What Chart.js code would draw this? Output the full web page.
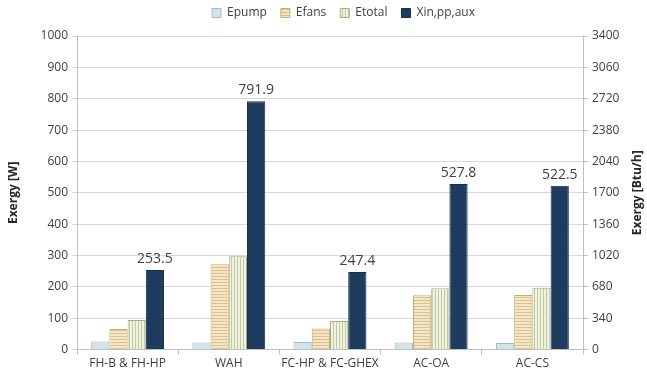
<!DOCTYPE html>
<html>
<head>
<meta charset="utf-8">
<script src="https://cdn.jsdelivr.net/npm/chart.js@4"></script>
<style>
  html, body { margin: 0; padding: 0; background: #fff; }
  #wrap { width: 647px; height: 375px; position: relative; }
</style>
</head>
<body>
<div id="wrap"><canvas id="chart"></canvas></div>
<script>
const categories = ["FH-B & FH-HP", "WAH", "FC-HP & FC-GHEX", "AC-OA", "AC-CS"];
const epump  = [26, 23, 24, 23, 21];
const efans  = [66, 272, 67, 173, 174];
const etotal = [94, 298, 91, 196, 197];
const xin    = [253.5, 791.9, 247.4, 527.8, 522.5];
const btuTicks = [0, 340, 680, 1020, 1360, 1700, 2040, 2380, 2720, 3060, 3400];

const FONT = "'Open Sans', 'Liberation Sans', sans-serif";

// stripe fills like the old spreadsheet look
function stripes(bg, line, vertical) {
  const c = document.createElement("canvas");
  c.width = 3; c.height = 3;
  const g = c.getContext("2d");
  g.fillStyle = bg; g.fillRect(0, 0, 3, 3);
  g.fillStyle = line;
  if (vertical) g.fillRect(0, 0, 1, 3); else g.fillRect(0, 0, 3, 1);
  return g.createPattern(c, "repeat");
}

const ctx = document.getElementById("chart").getContext("2d");

// value labels on the dark series + right axis title reading upwards
const extras = {
  id: "extras",
  afterLayout(chart) {
    const lg = chart.legend;
    lg.left += 20; lg.right += 20;
    lg.top -= 7; lg.bottom -= 7;
  },
  afterDatasetsDraw(chart) {
    const c = chart.ctx;
    const meta = chart.getDatasetMeta(3);
    c.save();
    c.font = "14px " + FONT;
    c.fillStyle = "#404040";
    c.textAlign = "center";
    c.textBaseline = "bottom";
    meta.data.forEach((bar, i) => {
      c.fillText(xin[i].toFixed(1), bar.x, bar.y - 4);
    });
    const a = chart.chartArea;
    c.translate(638, (a.top + a.bottom) / 2);
    c.rotate(-Math.PI / 2);
    c.font = "bold 12px " + FONT;
    c.fillStyle = "#262626";
    c.textBaseline = "middle";
    c.fillText("Exergy [Btu/h]", 0, 0);
    c.restore();
  }
};

new Chart(ctx, {
  type: "bar",
  data: {
    labels: categories,
    datasets: [
      { label: "Epump", data: epump, backgroundColor: "#d3e3ea", borderColor: "#9fbccb", borderWidth: 1 },
      { label: "Efans", data: efans, backgroundColor: stripes("#f4e6c8", "#dcc089", false), borderColor: "#c8aa72", borderWidth: 1 },
      { label: "Etotal", data: etotal, backgroundColor: stripes("#f1f3e2", "#c2c9a2", true), borderColor: "#a6ae86", borderWidth: 1 },
      { label: "Xin,pp,aux", data: xin, backgroundColor: "#1f3b5e", borderColor: "#162c48", borderWidth: 1 },
      { label: "btu", data: [], yAxisID: "y2", hidden: true }
    ]
  },
  options: {
    responsive: true,
    maintainAspectRatio: false,
    animation: false,
    datasets: { bar: { categoryPercentage: 0.72, barPercentage: 1.0 } },
    layout: { padding: { top: 0, left: 4, right: 4, bottom: 2 } },
    plugins: {
      legend: {
        position: "top",
        labels: {
          color: "#404040",
          font: { family: FONT, size: 12 },
          boxWidth: 9, boxHeight: 9,
          padding: 14,
          filter: item => item.text !== "btu"
        }
      },
      tooltip: { enabled: false }
    },
    scales: {
      x: {
        grid: { offset: true, drawOnChartArea: false, color: "#bfbfbf", tickLength: 5 },
        border: { color: "#bfbfbf" },
        ticks: { color: "#404040", font: { family: FONT, size: 12 }, maxRotation: 0, padding: 2 }
      },
      y: {
        position: "left",
        min: 0, max: 1000,
        afterFit(axis) { axis.width = 73; },
        ticks: { stepSize: 100, color: "#404040", font: { family: FONT, size: 12 }, padding: 4, callback: v => String(v) },
        grid: { color: "#d9d9d9", tickLength: 5 },
        border: { color: "#bfbfbf" },
        title: { display: true, text: "Exergy [W]", color: "#262626", font: { family: FONT, size: 12, weight: "bold" }, padding: 2 }
      },
      y2: {
        position: "right",
        min: 0, max: 3400,
        afterFit(axis) { axis.width = 60; },
        afterBuildTicks(axis) { axis.ticks = btuTicks.map(v => ({ value: v })); },
        ticks: { color: "#404040", font: { family: FONT, size: 12 }, padding: 4, callback: v => String(v) },
        grid: { drawOnChartArea: false, color: "#bfbfbf", tickLength: 5 },
        border: { color: "#bfbfbf" }
      }
    }
  },
  plugins: [extras]
});
</script>
</body>
</html>
